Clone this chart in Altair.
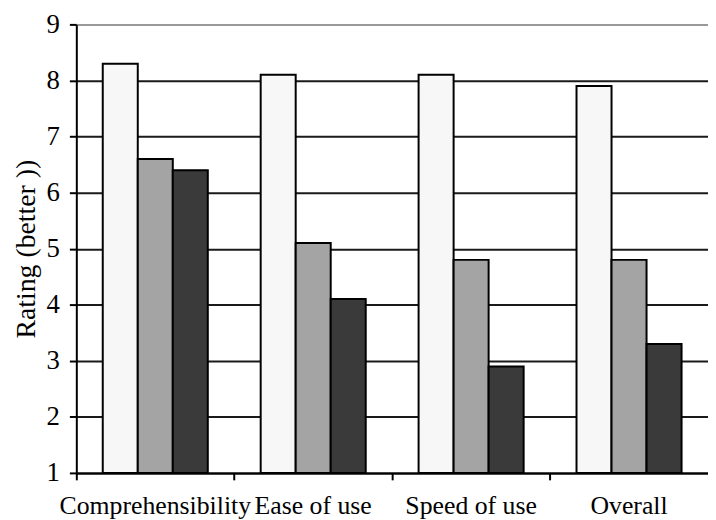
import altair as alt
import pandas as pd

categories = ["Comprehensibility", "Ease of use", "Speed of use", "Overall"]
series = ["A", "B", "C"]
values_a = [8.3, 8.1, 8.1, 7.9]
values_b = [6.6, 5.1, 4.8, 4.8]
values_c = [6.4, 4.1, 2.9, 3.3]
colors = ["#f7f7f7", "#a4a4a4", "#3a3a3a"]

rows = []
for i, c in enumerate(categories):
    for s, vals in zip(series, [values_a, values_b, values_c]):
        rows.append({"Category": c, "Series": s, "Rating": vals[i]})
df = pd.DataFrame(rows)

font = "Liberation Serif"

bars = alt.Chart(df).mark_bar(stroke="black", strokeWidth=2).encode(
    x=alt.X("Category:N", sort=categories,
            scale=alt.Scale(paddingInner=0, paddingOuter=0),
            axis=alt.Axis(title=None, labelAngle=0, bandPosition=0, labelLimit=0,
                          labelFont=font, labelFontSize=26, labelColor="black",
                          labelPadding=13, tickSize=7, tickColor="black", tickWidth=2,
                          domainColor="black", domainWidth=2, grid=False)),
    xOffset=alt.XOffset("Series:N", sort=series,
                        scale=alt.Scale(paddingInner=0, paddingOuter=0.755)),
    y=alt.Y("Rating:Q", scale=alt.Scale(domain=[1, 9], nice=False, zero=False),
            axis=alt.Axis(title="Rating (better ))", values=list(range(1, 10)), format="d",
                          titleFont=font, titleFontSize=28, titleFontWeight="normal", titleColor="black",
                          titlePadding=6,
                          labelFont=font, labelFontSize=27, labelColor="black", labelPadding=10,
                          tickSize=7, tickColor="black", tickWidth=2,
                          domainColor="black", domainWidth=2,
                          grid=True, gridWidth=2,
                          gridColor={"condition": {"test": "datum.value == 9", "value": "#999999"}, "value": "#1a1a1a"})),
    y2=alt.datum(1),
    color=alt.Color("Series:N", sort=series, scale=alt.Scale(domain=series, range=colors), legend=None),
)

chart = bars.properties(
    width=638, height=453,
    autosize="none",
    padding={"left": 69, "top": 14, "right": 0, "bottom": 45},
).configure_view(stroke="#999999", strokeWidth=2).configure(background="white")

chart.save("out.html", embed_options={"renderer": "svg", "actions": False})
